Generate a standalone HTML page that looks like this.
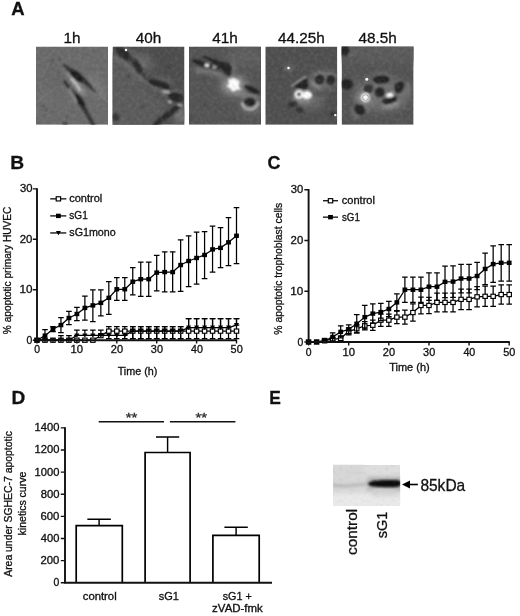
<!DOCTYPE html>
<html lang="en"><head><meta charset="utf-8"><title>Figure</title>
<style>html,body{margin:0;padding:0;background:#fff}svg{display:block}text{font-family:"Liberation Sans", Arial, Helvetica, sans-serif;stroke:#111;stroke-width:0.3px}</style></head><body>
<svg width="520" height="616" viewBox="0 0 520 616">
<defs>
<filter id="b1" filterUnits="userSpaceOnUse" x="-100" y="-100" width="800" height="800"><feGaussianBlur stdDeviation="1"/></filter>
<filter id="b15" filterUnits="userSpaceOnUse" x="-100" y="-100" width="800" height="800"><feGaussianBlur stdDeviation="1.5"/></filter>
<filter id="b2" filterUnits="userSpaceOnUse" x="-100" y="-100" width="800" height="800"><feGaussianBlur stdDeviation="2.2"/></filter>
<filter id="b3" filterUnits="userSpaceOnUse" x="-100" y="-100" width="800" height="800"><feGaussianBlur stdDeviation="3.5"/></filter>
<filter id="b05" filterUnits="userSpaceOnUse" x="-100" y="-100" width="800" height="800"><feGaussianBlur stdDeviation="0.6"/></filter>
<clipPath id="cp0"><rect x="36.0" y="46.5" width="72.0" height="78.3"/></clipPath>
<clipPath id="cp1"><rect x="112.5" y="46.5" width="72.0" height="78.3"/></clipPath>
<clipPath id="cp2"><rect x="189.0" y="46.5" width="72.0" height="78.3"/></clipPath>
<clipPath id="cp3"><rect x="265.3" y="46.5" width="72.0" height="78.3"/></clipPath>
<clipPath id="cp4"><rect x="341.6" y="46.5" width="72.0" height="78.3"/></clipPath>
<filter id="gw" x="0" y="0" width="100%" height="100%"><feTurbulence type="fractalNoise" baseFrequency="0.28" numOctaves="2" seed="7"/><feColorMatrix type="matrix" values="0 0 0 0 1  0 0 0 0 1  0 0 0 0 1  0.2 0 0 0 -0.1"/></filter>
<filter id="gb" x="0" y="0" width="100%" height="100%"><feTurbulence type="fractalNoise" baseFrequency="0.28" numOctaves="2" seed="7"/><feColorMatrix type="matrix" values="0 0 0 0 0  0 0 0 0 0  0 0 0 0 0  -0.2 0 0 0 0.1"/></filter>
<clipPath id="cpE"><rect x="333" y="464.8" width="67.2" height="41.2"/></clipPath>
</defs>
<rect width="520" height="616" fill="#fff"/>
<text x="11.34" y="14.80" font-size="18.7" text-anchor="start" fill="#111" font-weight="bold" textLength="13.37" lengthAdjust="spacingAndGlyphs">A</text>
<text x="10.35" y="169.30" font-size="18.7" text-anchor="start" fill="#111" font-weight="bold" textLength="13.86" lengthAdjust="spacingAndGlyphs">B</text>
<text x="267.49" y="169.30" font-size="18.7" text-anchor="start" fill="#111" font-weight="bold" textLength="12.90" lengthAdjust="spacingAndGlyphs">C</text>
<text x="11.56" y="404.40" font-size="18.7" text-anchor="start" fill="#111" font-weight="bold" textLength="13.74" lengthAdjust="spacingAndGlyphs">D</text>
<text x="269.17" y="404.40" font-size="18.7" text-anchor="start" fill="#111" font-weight="bold" textLength="11.57" lengthAdjust="spacingAndGlyphs">E</text>
<g id="panelA">
<text x="72.00" y="42.50" font-size="15.3" text-anchor="middle" fill="#111">1h</text>
<text x="148.50" y="42.50" font-size="15.3" text-anchor="middle" fill="#111">40h</text>
<text x="225.00" y="42.50" font-size="15.3" text-anchor="middle" fill="#111">41h</text>
<text x="301.30" y="42.50" font-size="15.3" text-anchor="middle" fill="#111">44.25h</text>
<text x="377.60" y="42.50" font-size="15.3" text-anchor="middle" fill="#111">48.5h</text>
</g>
<g clip-path="url(#cp0)"><rect x="36.0" y="46.5" width="72.0" height="78.3" fill="#6b6b6b"/>
<g transform="translate(36.0 46.5)">
<g filter="url(#b3)">
<ellipse cx="60" cy="40" rx="7" ry="15" fill="#787878" stroke="#787878" stroke-width="0.4" transform="rotate(-38 60 40)" />
<ellipse cx="7" cy="51" rx="5" ry="4" fill="#747474" stroke="#747474" stroke-width="0.4" />
<ellipse cx="20" cy="30" rx="8" ry="14" fill="#666" stroke="#666" stroke-width="0.4" transform="rotate(-35 20 30)" />
</g>
<g filter="url(#b2)">
<path d="M32.0 26.0C33.0 27.2 36.2 30.5 38.0 33.0C39.8 35.5 41.5 38.7 43.0 41.0C44.5 43.3 46.3 46.0 47.0 47.0" fill="none" stroke="#949494" stroke-width="4.5" stroke-linecap="round" />
<path d="M32.0 40.0C32.8 41.5 35.3 46.2 37.0 49.0C38.7 51.8 41.2 55.7 42.0 57.0" fill="none" stroke="#8c8c8c" stroke-width="3" stroke-linecap="round" />
</g>
<g filter="url(#b1)">
<path d="M27.0 17.3C27.6 17.1 31.0 19.5 33.2 20.8C35.4 22.1 37.9 23.4 40.2 24.9C42.5 26.4 45.0 27.9 47.1 29.8C49.2 31.7 51.0 34.0 52.6 36.0C54.2 38.0 55.5 39.8 56.8 41.5C58.1 43.2 60.4 46.1 60.2 46.4C60.0 46.7 57.1 44.5 55.4 43.2C53.7 41.9 51.4 39.8 49.8 38.6C48.2 37.4 47.1 36.5 45.7 35.8C44.3 35.1 42.9 35.0 41.5 34.2C40.1 33.4 38.7 32.1 37.4 30.8C36.1 29.5 35.2 28.1 33.9 26.6C32.6 25.1 30.9 23.4 29.8 21.8C28.7 20.2 26.4 17.5 27.0 17.3Z" fill="#343434" stroke="#343434" stroke-width="0.4" stroke-linejoin="round" />
<ellipse cx="41" cy="29.6" rx="7.5" ry="3.3" fill="#1e1e1e" stroke="#1e1e1e" stroke-width="0.4" transform="rotate(42 41 29.6)" />
<path d="M27.7 33.9C28.3 34.1 30.3 35.8 31.8 37.4C33.3 39.0 35.1 41.8 36.7 43.6C38.3 45.5 39.9 46.6 41.5 48.5C43.1 50.4 45.0 52.6 46.4 54.7C47.8 56.8 48.5 58.5 49.8 60.9C51.1 63.3 52.3 66.0 54.0 69.2C55.7 72.4 59.4 78.2 59.8 80.0C60.2 81.8 58.0 81.6 56.6 80.0C55.2 78.4 52.8 73.3 51.2 70.6C49.6 67.9 48.5 65.8 47.1 63.7C45.7 61.6 44.2 59.9 42.9 58.2C41.6 56.5 40.8 55.1 39.5 53.3C38.2 51.4 36.7 49.2 35.3 47.1C33.9 45.0 32.4 42.6 31.2 40.8C30.1 38.9 29.0 37.1 28.4 36.0C27.8 34.9 27.1 33.7 27.7 33.9Z" fill="#333" stroke="#333" stroke-width="0.4" stroke-linejoin="round" />
<ellipse cx="43.6" cy="53.6" rx="7.5" ry="2.7" fill="#1e1e1e" stroke="#1e1e1e" stroke-width="0.4" transform="rotate(53 43.6 53.6)" />
<path d="M28.5 34.8C29.2 35.8 31.5 38.5 33.0 40.5C34.5 42.5 36.8 45.5 37.5 46.5" fill="none" stroke="#2a2a2a" stroke-width="2.0" stroke-linecap="round" />
<path d="M35.5 32.5C36.2 33.4 38.6 35.8 40.0 37.6C41.4 39.4 43.2 42.5 43.8 43.5" fill="none" stroke="#c6c6c6" stroke-width="2.2" stroke-linecap="round" />
<path d="M33.4 42.0C34.0 43.1 35.8 46.3 37.0 48.5C38.2 50.7 39.9 53.9 40.5 55.0" fill="none" stroke="#a0a0a0" stroke-width="1.3" stroke-linecap="round" />
<circle cx="16.6" cy="13.8" r="1.2" fill="#4a4a4a"/>
<circle cx="7" cy="59.5" r="1.2" fill="#4a4a4a"/>
<circle cx="9.7" cy="63.7" r="1.2" fill="#4a4a4a"/>
<circle cx="31" cy="71.3" r="1.2" fill="#4a4a4a"/>
<circle cx="24" cy="13" r="1.2" fill="#4a4a4a"/>
<ellipse cx="29" cy="77.5" rx="3" ry="1.5" fill="#484848" stroke="#484848" stroke-width="0.4" />
</g>
</g>
<rect x="36.0" y="46.5" width="72.0" height="78.3" filter="url(#gw)"/>
<rect x="36.0" y="46.5" width="72.0" height="78.3" filter="url(#gb)"/>
</g>
<g clip-path="url(#cp1)"><rect x="112.5" y="46.5" width="72.0" height="78.3" fill="#4e4e4e"/>
<g transform="translate(112.5 46.5)">
<g filter="url(#b3)">
<path d="M-5 6 Q20 20 30 36 Q44 50 58 60 Q50 72 40 84 L-5 84Z" fill="#5c5c5c"/>
<ellipse cx="33" cy="15" rx="5" ry="11" fill="#686868" stroke="#686868" stroke-width="0.6" transform="rotate(-38 33 15)" />
<ellipse cx="68" cy="69" rx="7" ry="9" fill="#747474" stroke="#747474" stroke-width="0.6" />
</g>
<g filter="url(#b2)">
<path d="M2.3 10.7C4.2 11.9 10.0 15.0 13.5 17.8C17.0 20.6 19.9 24.6 23.4 27.6C26.9 30.6 30.9 33.4 34.6 36.0C38.3 38.6 42.5 40.9 45.8 43.0C49.1 45.1 52.9 47.7 54.3 48.6" fill="none" stroke="#767676" stroke-width="3.2" stroke-linecap="round" />
<path d="M44.0 31.0C45.3 31.3 49.3 32.0 52.0 33.0C54.7 34.0 58.7 36.3 60.0 37.0" fill="none" stroke="#6c6c6c" stroke-width="2.5" stroke-linecap="round" />
<path d="M13.0 1.0C14.2 2.0 17.7 5.0 20.0 7.0C22.3 9.0 25.0 10.7 27.0 13.0C29.0 15.3 31.2 19.7 32.0 21.0" fill="none" stroke="#787878" stroke-width="2.2" stroke-linecap="round" />
<path d="M60.0 44.0C61.0 44.2 64.2 44.3 66.0 45.0C67.8 45.7 70.2 47.5 71.0 48.0" fill="none" stroke="#707070" stroke-width="2.0" stroke-linecap="round" />
</g>
<g filter="url(#b1)">
<path d="M3.7 1.6C4.5 0.9 7.9 1.5 10.0 2.3C12.1 3.1 14.9 4.9 16.3 6.5C17.7 8.1 18.7 10.9 18.5 12.1C18.3 13.3 16.4 13.7 14.9 13.5C13.4 13.3 10.9 11.9 9.3 10.7C7.7 9.5 6.0 8.0 5.1 6.5C4.2 5.0 2.9 2.3 3.7 1.6Z" fill="#2b2b2b" stroke="#2b2b2b" stroke-width="0.6" stroke-linejoin="round" />
<path d="M20.6 13.5C21.2 13.0 22.9 13.2 24.1 14.2C25.3 15.1 26.7 17.3 27.6 19.2C28.5 21.1 29.8 24.2 29.7 25.5C29.6 26.8 27.9 27.5 26.9 26.9C25.8 26.3 24.4 23.6 23.4 22.0C22.3 20.4 21.1 18.4 20.6 17.0C20.1 15.6 20.0 14.0 20.6 13.5Z" fill="#2b2b2b" stroke="#2b2b2b" stroke-width="0.6" stroke-linejoin="round" />
<path d="M17.0 11.0C17.5 11.5 19.5 13.5 20.0 14.0" fill="none" stroke="#3a3a3a" stroke-width="2.4" stroke-linecap="round" />
<path d="M29.0 26.5C29.7 27.2 31.7 29.7 33.0 31.0C34.3 32.3 36.3 33.9 37.0 34.5" fill="none" stroke="#3c3c3c" stroke-width="2.2" stroke-linecap="round" />
<path d="M35.3 33.9C35.8 33.2 39.4 33.0 41.6 33.2C43.8 33.4 46.2 34.5 48.6 35.3C51.0 36.1 54.2 37.0 55.7 38.1C57.2 39.2 58.3 40.9 57.8 41.6C57.3 42.3 54.8 42.5 52.8 42.3C50.8 42.1 48.1 41.0 45.8 40.2C43.5 39.4 40.5 38.5 38.8 37.4C37.0 36.3 34.8 34.6 35.3 33.9Z" fill="#282828" stroke="#282828" stroke-width="0.6" stroke-linejoin="round" />
<path d="M56.4 47.9C57.3 47.1 60.6 46.4 62.7 46.5C64.8 46.6 67.7 47.7 69.0 48.6C70.3 49.5 70.8 51.0 70.4 52.1C70.1 53.2 68.4 54.6 66.9 55.0C65.4 55.4 62.9 54.9 61.3 54.3C59.7 53.7 57.9 52.5 57.1 51.4C56.3 50.3 55.5 48.7 56.4 47.9Z" fill="#262626" stroke="#262626" stroke-width="0.6" stroke-linejoin="round" />
<path d="M65.5 57.8C66.9 57.6 68.8 58.6 68.3 59.9C67.8 61.2 64.8 63.6 62.7 65.5C60.6 67.4 58.1 69.3 55.7 71.1C53.4 72.8 50.5 74.6 48.6 76.0C46.7 77.4 45.9 78.9 44.4 79.5C42.9 80.1 39.6 80.7 39.8 79.5C40.0 78.3 43.6 74.6 45.8 72.5C48.0 70.4 50.4 68.8 52.8 66.9C55.1 65.0 57.8 62.8 59.9 61.3C62.0 59.8 64.1 58.0 65.5 57.8Z" fill="#2a2a2a" stroke="#2a2a2a" stroke-width="0.6" stroke-linejoin="round" />
<ellipse cx="3.2" cy="70.6" rx="3.2" ry="3.6" fill="#343434" stroke="#343434" stroke-width="0.6" />
<path d="M50.8 45 L56.4 45.6" stroke="#dcdcdc" stroke-width="1.7" fill="none" stroke-linecap="round" stroke-linejoin="round" />
<path d="M55.8 54.6 L58.4 56.2" stroke="#d4d4d4" stroke-width="1.7" fill="none" stroke-linecap="round" stroke-linejoin="round" />
<path d="M66 58.2 L69 59" stroke="#d4d4d4" stroke-width="1.6" fill="none" stroke-linecap="round" stroke-linejoin="round" />
<circle cx="55.9" cy="21.5" r="1.2" fill="#363636"/>
<circle cx="15.9" cy="29.6" r="1.2" fill="#363636"/>
<circle cx="30.6" cy="60" r="1.2" fill="#363636"/>
</g>
<circle cx="13.5" cy="3.5" r="1.25" fill="#fff" filter="url(#b05)"/>
</g>
<rect x="112.5" y="46.5" width="72.0" height="78.3" filter="url(#gw)"/>
<rect x="112.5" y="46.5" width="72.0" height="78.3" filter="url(#gb)"/>
</g>
<g clip-path="url(#cp2)"><rect x="189.0" y="46.5" width="72.0" height="78.3" fill="#555555"/>
<g transform="translate(189.0 46.5)">
<g filter="url(#b3)">
<ellipse cx="45" cy="39" rx="13" ry="10" fill="#8e8e8e" stroke="#8e8e8e" stroke-width="0.5" />
<ellipse cx="56" cy="10" rx="20" ry="10" fill="#5e5e5e" stroke="#5e5e5e" stroke-width="0.5" />
<ellipse cx="62" cy="58" rx="10" ry="8" fill="#777" stroke="#777" stroke-width="0.5" />
</g>
<g filter="url(#b2)">
<path d="M7.5 23.5C9.6 23.8 15.7 24.0 20.0 25.0C24.3 26.0 31.0 28.8 33.2 29.5" fill="none" stroke="#8e8e8e" stroke-width="3.0" stroke-linecap="round" />
<path d="M48.1 46.5C49.8 46.9 54.8 48.3 58.0 49.0C61.2 49.7 65.8 50.4 67.3 50.7" fill="none" stroke="#8e8e8e" stroke-width="2.8" stroke-linecap="round" />
<ellipse cx="43.5" cy="20" rx="2.5" ry="4" fill="#7a7a7a" stroke="#7a7a7a" stroke-width="0.5" />
</g>
<g filter="url(#b1)">
<path d="M3.3 13.7C4.0 13.2 6.9 12.6 9.0 13.0C11.1 13.4 14.0 15.1 16.1 15.9C18.2 16.7 19.8 17.2 21.8 18.0C23.8 18.8 26.9 20.0 28.2 20.8C29.5 21.6 30.4 22.8 29.6 23.0C28.8 23.2 25.4 22.7 23.2 22.3C20.9 21.9 18.5 21.5 16.1 20.8C13.7 20.1 10.9 18.8 9.0 18.0C7.1 17.2 5.7 16.6 4.7 15.9C3.8 15.2 2.6 14.2 3.3 13.7Z" fill="#252525" stroke="#252525" stroke-width="0.5" stroke-linejoin="round" />
<path d="M13.2 9.7C13.7 9.5 17.9 10.2 20.3 10.9C22.7 11.6 25.1 12.9 27.5 13.7C29.9 14.5 32.5 15.3 34.6 15.9C36.7 16.5 39.0 16.5 40.3 17.3C41.6 18.1 42.2 19.4 42.4 20.8C42.6 22.2 42.1 24.4 41.7 25.8C41.4 27.2 41.1 29.1 40.3 29.4C39.5 29.6 37.9 28.2 36.7 27.3C35.5 26.4 34.5 24.9 33.2 23.7C31.9 22.5 30.6 21.4 28.9 20.1C27.2 18.8 25.1 17.2 23.2 15.9C21.3 14.6 19.2 13.3 17.5 12.3C15.8 11.3 12.7 9.9 13.2 9.7Z" fill="#262626" stroke="#262626" stroke-width="0.5" stroke-linejoin="round" />
<path d="M55.2 39.3C55.7 38.7 59.4 39.4 61.6 40.1C63.9 40.8 67.3 42.5 68.7 43.6C70.1 44.7 70.9 46.0 70.2 46.5C69.5 47.0 66.4 47.0 64.5 46.5C62.6 46.0 60.3 44.8 58.8 43.6C57.2 42.4 54.7 39.9 55.2 39.3Z" fill="#232323" stroke="#232323" stroke-width="0.5" stroke-linejoin="round" />
<ellipse cx="61" cy="55.6" rx="5.6" ry="3.9" fill="#212121" stroke="#212121" stroke-width="0.5" />
<path d="M53.1 56.5C53.5 57.2 53.9 59.9 55.2 61.0C56.5 62.1 58.9 63.3 60.9 63.2C62.9 63.1 66.0 61.5 67.3 60.4C68.6 59.3 68.6 57.2 68.9 56.6" fill="none" stroke="#c4c4c4" stroke-width="1.8" stroke-linecap="round" />
<path d="M39 33 L44 31.4 L48 32.4 L50.6 35 L49.8 39.6 L51.6 43.6 L47 43.6 L44 45.6 L41.2 42 L37.6 40 L40 37Z" fill="#fbfbfb"/>
<ellipse cx="18" cy="18.7" rx="2.0" ry="1.5" fill="#f8f8f8" stroke="#f8f8f8" stroke-width="0.5" />
<ellipse cx="25.3" cy="20.9" rx="2.0" ry="1.3" fill="#a4a4a4" stroke="#a4a4a4" stroke-width="0.5" />
<circle cx="14.7" cy="32.2" r="1.2" fill="#3a3a3a"/>
<circle cx="16" cy="58.5" r="1.2" fill="#3a3a3a"/>
<circle cx="30.3" cy="62" r="1.2" fill="#3a3a3a"/>
<circle cx="45.2" cy="72.8" r="1.2" fill="#3a3a3a"/>
<circle cx="1.8" cy="72" r="1.2" fill="#3a3a3a"/>
</g>
</g>
<rect x="189.0" y="46.5" width="72.0" height="78.3" filter="url(#gw)"/>
<rect x="189.0" y="46.5" width="72.0" height="78.3" filter="url(#gb)"/>
</g>
<g clip-path="url(#cp3)"><rect x="265.3" y="46.5" width="72.0" height="78.3" fill="#505050"/>
<g transform="translate(265.3 46.5)">
<g filter="url(#b3)">
<ellipse cx="58" cy="34" rx="14" ry="9" fill="#6e6e6e" stroke="#6e6e6e" stroke-width="0.9" />
<ellipse cx="38" cy="50" rx="9" ry="7" fill="#8c8c8c" stroke="#8c8c8c" stroke-width="0.9" />
<ellipse cx="46" cy="58" rx="12" ry="5" fill="#666" stroke="#666" stroke-width="0.9" />
</g>
<g filter="url(#b2)">
<ellipse cx="23.2" cy="21.5" rx="3.5" ry="3" fill="#747474" stroke="#747474" stroke-width="0.9" />
<path d="M46.4 35.8C47.0 36.3 48.7 37.8 50.0 38.6C51.3 39.4 53.5 40.4 54.2 40.8" fill="none" stroke="#b0b0b0" stroke-width="2.2" stroke-linecap="round" />
<path d="M48.5 53.6C49.4 53.4 52.1 53.1 54.0 52.6C55.9 52.1 58.9 51.0 59.9 50.7" fill="none" stroke="#7c7c7c" stroke-width="2.0" stroke-linecap="round" />
<path d="M29.0 53.0C30.2 53.2 33.5 54.3 36.0 54.5C38.5 54.7 42.7 54.1 44.0 54.0" fill="none" stroke="#9a9a9a" stroke-width="2.2" stroke-linecap="round" />
</g>
<g filter="url(#b1)">
<path d="M27.9 38.6C28.3 37.5 32.3 35.6 34.3 34.4C36.3 33.1 38.8 31.0 40.0 31.1C41.2 31.2 41.0 33.4 41.4 35.1C41.8 36.8 42.8 40.3 42.1 41.5C41.4 42.7 38.8 42.3 37.1 42.2C35.4 42.1 33.6 41.4 32.1 40.8C30.6 40.2 27.5 39.7 27.9 38.6Z" fill="#232323" stroke="#232323" stroke-width="0.9" stroke-linejoin="round" />
<path d="M26.5 39.1 L40.3 30.1" stroke="#aaaaaa" stroke-width="1.3" fill="none" stroke-linecap="round" stroke-linejoin="round" />
<ellipse cx="54.2" cy="32.9" rx="4.4" ry="4.6" fill="#2a2a2a" stroke="#2a2a2a" stroke-width="0.9" />
<ellipse cx="65.4" cy="33.6" rx="4.0" ry="5.0" fill="#2c2c2c" stroke="#2c2c2c" stroke-width="0.9" />
<path d="M49.0 29.0C49.8 28.5 52.2 26.5 54.0 26.2C55.8 25.9 58.0 26.9 60.0 27.0C62.0 27.1 64.2 26.3 66.0 26.6C67.8 26.9 69.8 28.6 70.5 29.0" fill="none" stroke="#7e7e7e" stroke-width="1.4" stroke-linecap="round" />
<ellipse cx="27.2" cy="57.8" rx="4.4" ry="2.6" fill="#323232" stroke="#323232" stroke-width="0.9" transform="rotate(-15 27.2 57.8)" />
<ellipse cx="34.3" cy="63.5" rx="3.6" ry="2.4" fill="#353535" stroke="#353535" stroke-width="0.9" />
<circle cx="33.6" cy="47.9" r="3.3" fill="#3a3a3a" stroke="#fdfdfd" stroke-width="2.3"/>
<ellipse cx="41.6" cy="48.6" rx="4.7" ry="3.7" fill="#fdfdfd" stroke="#fdfdfd" stroke-width="0.9" />
<ellipse cx="15.8" cy="22.3" rx="1.2" ry="1.2" fill="#3a3a3a" stroke="#3a3a3a" stroke-width="0.9" />
<ellipse cx="67.0" cy="67.6" rx="1.8" ry="1.8" fill="#2c2c2c" stroke="#2c2c2c" stroke-width="0.9" />
</g>
<g filter="url(#b05)">
<circle cx="23.2" cy="21.6" r="1.25" fill="#fff"/>
<circle cx="70.0" cy="68.6" r="1.2" fill="#f4f4f4"/>
</g>
</g>
<rect x="265.3" y="46.5" width="72.0" height="78.3" filter="url(#gw)"/>
<rect x="265.3" y="46.5" width="72.0" height="78.3" filter="url(#gb)"/>
</g>
<g clip-path="url(#cp4)"><rect x="341.6" y="46.5" width="72.0" height="78.3" fill="#545454"/>
<g transform="translate(341.6 46.5)">
<g filter="url(#b3)">
<rect x="-6" y="-6" width="84" height="22" fill="#5c5c5c"/>
<ellipse cx="41" cy="48" rx="27" ry="17" fill="#6e6e6e" stroke="#6e6e6e" stroke-width="1.1" />
<ellipse cx="22" cy="52" rx="7" ry="6" fill="#929292" stroke="#929292" stroke-width="1.1" />
</g>
<g filter="url(#b2)">
<path d="M42.5 58.8C43.7 58.9 47.2 60.1 49.6 59.6C52.0 59.1 55.5 56.5 56.7 55.9" fill="none" stroke="#b8b8b8" stroke-width="2.2" stroke-linecap="round" />
<path d="M11.9 61.5C12.0 62.4 11.8 65.4 12.6 67.0C13.4 68.6 16.1 70.3 16.8 71.0" fill="none" stroke="#9a9a9a" stroke-width="2.0" stroke-linecap="round" />
<path d="M24.7 62.0C24.8 62.7 25.1 65.3 25.2 66.0" fill="none" stroke="#8a8a8a" stroke-width="1.8" stroke-linecap="round" />
<path d="M65.3 36.9C65.6 37.6 67.1 39.5 67.2 41.0C67.3 42.5 66.0 45.2 65.7 46.0" fill="none" stroke="#8a8a8a" stroke-width="2.0" stroke-linecap="round" />
<path d="M33.0 28.4C34.2 28.1 37.7 26.6 40.0 26.6C42.3 26.6 45.8 28.3 47.0 28.6" fill="none" stroke="#808080" stroke-width="1.6" stroke-linecap="round" />
<path d="M11.9 33.0C12.0 33.8 12.5 37.2 12.6 38.0" fill="none" stroke="#8c8c8c" stroke-width="1.6" stroke-linecap="round" />
<path d="M7 5 L9 8" stroke="#8a8a8a" stroke-width="1.5" fill="none" stroke-linecap="round" stroke-linejoin="round" />
</g>
<g filter="url(#b1)">
<path d="M0.0 0.0C1.2 -0.6 5.2 -0.3 6.4 0.4C7.6 1.1 7.2 3.2 7.0 4.5C6.8 5.8 6.1 7.8 5.0 8.4C3.9 9.1 1.5 9.1 0.5 8.4C-0.5 7.7 -0.9 5.4 -1.0 4.0C-1.1 2.6 -1.2 0.6 0.0 0.0Z" fill="#252525" stroke="#252525" stroke-width="1.1" stroke-linejoin="round" />
<path d="M31.8 32.9C32.4 32.1 34.8 30.6 36.8 30.1C38.8 29.6 42.1 29.6 43.9 30.1C45.7 30.6 47.5 31.9 47.5 32.9C47.5 33.8 45.7 35.2 43.9 35.8C42.1 36.4 38.6 36.6 36.8 36.5C35.0 36.4 34.1 35.7 33.3 35.1C32.5 34.5 31.2 33.7 31.8 32.9Z" fill="#242424" stroke="#242424" stroke-width="1.1" stroke-linejoin="round" />
<path d="M0.5 34.4C1.4 33.6 3.2 33.0 4.8 33.0C6.3 33.0 8.9 33.4 9.8 34.4C10.8 35.4 11.0 38.0 10.5 39.3C10.0 40.6 8.3 41.8 6.9 42.2C5.5 42.6 3.2 42.2 2.0 41.5C0.8 40.8 -0.2 39.1 -0.4 37.9C-0.7 36.7 -0.4 35.2 0.5 34.4Z" fill="#222" stroke="#222" stroke-width="1.1" stroke-linejoin="round" />
<ellipse cx="26.9" cy="42.2" rx="4.3" ry="4.0" fill="#363636" stroke="#363636" stroke-width="1.1" />
<ellipse cx="38.2" cy="45.8" rx="4.4" ry="4.2" fill="#252525" stroke="#252525" stroke-width="1.1" />
<path d="M53.9 38.6C54.6 37.2 56.9 36.0 58.2 35.8C59.5 35.6 61.2 36.1 61.7 37.2C62.2 38.3 61.7 40.8 61.0 42.2C60.3 43.6 58.7 45.4 57.5 45.8C56.3 46.1 54.5 45.5 53.9 44.3C53.3 43.1 53.2 40.0 53.9 38.6Z" fill="#252525" stroke="#252525" stroke-width="1.1" stroke-linejoin="round" />
<path d="M41.1 54.3C41.6 53.3 44.8 52.1 46.8 51.4C48.8 50.7 51.9 49.8 53.2 50.0C54.5 50.2 55.2 51.9 54.6 52.9C54.0 53.9 51.4 55.0 49.6 55.7C47.8 56.4 45.3 57.3 43.9 57.1C42.5 56.9 40.6 55.2 41.1 54.3Z" fill="#212121" stroke="#212121" stroke-width="1.1" stroke-linejoin="round" />
<path d="M13.3 60.7C13.9 59.6 16.2 58.5 17.6 58.6C19.0 58.7 21.1 60.2 21.9 61.4C22.7 62.6 23.2 64.6 22.6 65.7C22.0 66.8 19.7 67.9 18.3 67.8C16.9 67.7 15.1 66.4 14.3 65.2C13.5 64.0 12.8 61.8 13.3 60.7Z" fill="#252525" stroke="#252525" stroke-width="1.1" stroke-linejoin="round" />
<circle cx="23.7" cy="51" r="4.4" fill="#fdfdfd"/>
<ellipse cx="48.3" cy="48.5" rx="3.2" ry="1.8" fill="#fbfbfb" stroke="#fbfbfb" stroke-width="1.1" transform="rotate(-10 48.3 48.5)" />
</g>
<g filter="url(#b05)">
<circle cx="23.9" cy="51.1" r="2.9" fill="none" stroke="#8a8a8a" stroke-width="0.8"/>
<circle cx="25.2" cy="32.7" r="1.5" fill="#fff"/>
</g>
</g>
<rect x="341.6" y="46.5" width="72.0" height="78.3" filter="url(#gw)"/>
<rect x="341.6" y="46.5" width="72.0" height="78.3" filter="url(#gb)"/>
</g>
<g id="chartB">
<path d="M76.90 330.11V335.41M74.10 330.11H79.70M74.10 335.41H79.70M84.88 330.11V335.41M82.08 330.11H87.68M82.08 335.41H87.68M92.86 330.11V335.41M90.06 330.11H95.66M90.06 335.41H95.66M100.84 330.11V335.41M98.04 330.11H103.64M98.04 335.41H103.64M108.82 330.11V335.41M106.02 330.11H111.62M106.02 335.41H111.62M116.80 330.11V335.41M114.00 330.11H119.60M114.00 335.41H119.60M124.78 330.11V335.41M121.98 330.11H127.58M121.98 335.41H127.58M132.76 326.58V338.69M129.96 326.58H135.56M129.96 338.69H135.56M140.74 326.58V338.69M137.94 326.58H143.54M137.94 338.69H143.54M148.72 326.58V338.69M145.92 326.58H151.52M145.92 338.69H151.52M156.70 326.58V338.69M153.90 326.58H159.50M153.90 338.69H159.50M164.68 326.58V338.69M161.88 326.58H167.48M161.88 338.69H167.48M172.66 326.58V338.69M169.86 326.58H175.46M169.86 338.69H175.46M180.64 326.58V338.69M177.84 326.58H183.44M177.84 338.69H183.44M188.62 318.51V327.59M185.82 318.51H191.42M185.82 327.59H191.42M196.60 318.51V327.59M193.80 318.51H199.40M193.80 327.59H199.40M204.58 318.51V327.59M201.78 318.51H207.38M201.78 327.59H207.38M212.56 318.51V327.59M209.76 318.51H215.36M209.76 327.59H215.36M220.54 318.51V327.59M217.74 318.51H223.34M217.74 327.59H223.34M228.52 318.51V327.59M225.72 318.51H231.32M225.72 327.59H231.32M236.50 318.51V325.06M233.70 318.51H239.30M233.70 325.06H239.30" fill="none" stroke="#000" stroke-width="1.25"/>
<path d="M60.94 335.66V340.20M58.14 335.66H63.74M58.14 340.20H63.74M68.92 335.66V340.20M66.12 335.66H71.72M66.12 340.20H71.72M108.82 326.58V338.69M106.02 326.58H111.62M106.02 338.69H111.62M116.80 326.58V338.69M114.00 326.58H119.60M114.00 338.69H119.60M124.78 326.58V338.69M121.98 326.58H127.58M121.98 338.69H127.58M132.76 326.58V338.69M129.96 326.58H135.56M129.96 338.69H135.56M140.74 326.58V338.69M137.94 326.58H143.54M137.94 338.69H143.54M148.72 326.58V338.69M145.92 326.58H151.52M145.92 338.69H151.52M156.70 326.58V338.69M153.90 326.58H159.50M153.90 338.69H159.50M164.68 326.58V338.69M161.88 326.58H167.48M161.88 338.69H167.48M172.66 326.58V338.69M169.86 326.58H175.46M169.86 338.69H175.46M180.64 326.58V338.69M177.84 326.58H183.44M177.84 338.69H183.44M188.62 318.51V338.69M185.82 318.51H191.42M185.82 338.69H191.42M196.60 318.51V338.69M193.80 318.51H199.40M193.80 338.69H199.40M204.58 318.51V338.69M201.78 318.51H207.38M201.78 338.69H207.38M212.56 318.51V338.69M209.76 318.51H215.36M209.76 338.69H215.36M220.54 318.51V338.69M217.74 318.51H223.34M217.74 338.69H223.34M228.52 318.51V338.69M225.72 318.51H231.32M225.72 338.69H231.32M236.50 318.51V338.69M233.70 318.51H239.30M233.70 338.69H239.30" fill="none" stroke="#000" stroke-width="1.25"/>
<polyline points="37.00,340.20 44.98,340.20 52.96,340.20 60.94,340.20 68.92,340.20 76.90,340.20 84.88,340.20 92.86,340.20 100.84,335.66 108.82,331.12 116.80,331.12 124.78,331.12 132.76,331.12 140.74,331.12 148.72,331.12 156.70,331.12 164.68,331.12 172.66,331.12 180.64,331.12 188.62,331.12 196.60,331.12 204.58,331.12 212.56,331.12 220.54,331.12 228.52,331.12 236.50,331.12" fill="none" stroke="#000" stroke-width="1.25" stroke-linejoin="round"/>
<rect x="34.80" y="338.10" width="4.4" height="4.2" fill="#fff" stroke="#000" stroke-width="1.15"/>
<rect x="42.78" y="338.10" width="4.4" height="4.2" fill="#fff" stroke="#000" stroke-width="1.15"/>
<rect x="50.76" y="338.10" width="4.4" height="4.2" fill="#fff" stroke="#000" stroke-width="1.15"/>
<rect x="58.74" y="338.10" width="4.4" height="4.2" fill="#fff" stroke="#000" stroke-width="1.15"/>
<rect x="66.72" y="338.10" width="4.4" height="4.2" fill="#fff" stroke="#000" stroke-width="1.15"/>
<rect x="74.70" y="338.10" width="4.4" height="4.2" fill="#fff" stroke="#000" stroke-width="1.15"/>
<rect x="82.68" y="338.10" width="4.4" height="4.2" fill="#fff" stroke="#000" stroke-width="1.15"/>
<rect x="90.66" y="338.10" width="4.4" height="4.2" fill="#fff" stroke="#000" stroke-width="1.15"/>
<rect x="98.64" y="333.56" width="4.4" height="4.2" fill="#fff" stroke="#000" stroke-width="1.15"/>
<rect x="106.62" y="329.02" width="4.4" height="4.2" fill="#fff" stroke="#000" stroke-width="1.15"/>
<rect x="114.60" y="329.02" width="4.4" height="4.2" fill="#fff" stroke="#000" stroke-width="1.15"/>
<rect x="122.58" y="329.02" width="4.4" height="4.2" fill="#fff" stroke="#000" stroke-width="1.15"/>
<rect x="130.56" y="329.02" width="4.4" height="4.2" fill="#fff" stroke="#000" stroke-width="1.15"/>
<rect x="138.54" y="329.02" width="4.4" height="4.2" fill="#fff" stroke="#000" stroke-width="1.15"/>
<rect x="146.52" y="329.02" width="4.4" height="4.2" fill="#fff" stroke="#000" stroke-width="1.15"/>
<rect x="154.50" y="329.02" width="4.4" height="4.2" fill="#fff" stroke="#000" stroke-width="1.15"/>
<rect x="162.48" y="329.02" width="4.4" height="4.2" fill="#fff" stroke="#000" stroke-width="1.15"/>
<rect x="170.46" y="329.02" width="4.4" height="4.2" fill="#fff" stroke="#000" stroke-width="1.15"/>
<rect x="178.44" y="329.02" width="4.4" height="4.2" fill="#fff" stroke="#000" stroke-width="1.15"/>
<rect x="186.42" y="329.02" width="4.4" height="4.2" fill="#fff" stroke="#000" stroke-width="1.15"/>
<rect x="194.40" y="329.02" width="4.4" height="4.2" fill="#fff" stroke="#000" stroke-width="1.15"/>
<rect x="202.38" y="329.02" width="4.4" height="4.2" fill="#fff" stroke="#000" stroke-width="1.15"/>
<rect x="210.36" y="329.02" width="4.4" height="4.2" fill="#fff" stroke="#000" stroke-width="1.15"/>
<rect x="218.34" y="329.02" width="4.4" height="4.2" fill="#fff" stroke="#000" stroke-width="1.15"/>
<rect x="226.32" y="329.02" width="4.4" height="4.2" fill="#fff" stroke="#000" stroke-width="1.15"/>
<rect x="234.30" y="329.02" width="4.4" height="4.2" fill="#fff" stroke="#000" stroke-width="1.15"/>
<path d="M44.98 329.61V340.20M42.18 329.61H47.78M42.18 340.20H47.78M52.96 326.58V331.62M50.16 326.58H55.76M50.16 331.62H55.76M60.94 317.50V332.63M58.14 317.50H63.74M58.14 332.63H63.74M68.92 311.44V324.56M66.12 311.44H71.72M66.12 324.56H71.72M76.90 307.41V320.52M74.10 307.41H79.70M74.10 320.52H79.70M84.88 296.06V320.02M82.08 296.06H87.68M82.08 320.02H87.68M92.86 289.75V321.53M90.06 289.75H95.66M90.06 321.53H95.66M100.84 289.75V315.98M98.04 289.75H103.64M98.04 315.98H103.64M108.82 281.68V314.47M106.02 281.68H111.62M106.02 314.47H111.62M116.80 277.64V300.34M114.00 277.64H119.60M114.00 300.34H119.60M124.78 277.64V300.34M121.98 277.64H127.58M121.98 300.34H127.58M132.76 267.55V294.79M129.96 267.55H135.56M129.96 294.79H135.56M140.74 262.00V296.31M137.94 262.00H143.54M137.94 296.31H143.54M148.72 262.00V296.31M145.92 262.00H151.52M145.92 296.31H151.52M156.70 255.44V290.76M153.90 255.44H159.50M153.90 290.76H159.50M164.68 251.91V291.77M161.88 251.91H167.48M161.88 291.77H167.48M172.66 251.91V291.77M169.86 251.91H175.46M169.86 291.77H175.46M180.64 239.80V291.26M177.84 239.80H183.44M177.84 291.26H183.44M188.62 235.77V286.72M185.82 235.77H191.42M185.82 286.72H191.42M196.60 232.24V284.20M193.80 232.24H199.40M193.80 284.20H199.40M204.58 231.73V278.65M201.78 231.73H207.38M201.78 278.65H207.38M212.56 226.18V272.09M209.76 226.18H215.36M209.76 272.09H215.36M220.54 227.70V267.55M217.74 227.70H223.34M217.74 267.55H223.34M228.52 217.61V265.53M225.72 217.61H231.32M225.72 265.53H231.32M236.50 207.52V263.52M233.70 207.52H239.30M233.70 263.52H239.30" fill="none" stroke="#000" stroke-width="1.25"/>
<polyline points="37.00,340.20 44.98,335.66 52.96,329.10 60.94,325.06 68.92,318.00 76.90,313.97 84.88,307.91 92.86,305.39 100.84,302.87 108.82,297.82 116.80,289.25 124.78,289.25 132.76,281.68 140.74,279.16 148.72,279.16 156.70,272.60 164.68,272.09 172.66,272.09 180.64,265.03 188.62,260.99 196.60,257.97 204.58,254.94 212.56,249.39 220.54,247.88 228.52,242.33 236.50,235.77" fill="none" stroke="#000" stroke-width="1.25" stroke-linejoin="round"/>
<rect x="34.60" y="338.00" width="4.8" height="4.4" fill="#000"/>
<rect x="42.58" y="333.46" width="4.8" height="4.4" fill="#000"/>
<rect x="50.56" y="326.90" width="4.8" height="4.4" fill="#000"/>
<rect x="58.54" y="322.87" width="4.8" height="4.4" fill="#000"/>
<rect x="66.52" y="315.80" width="4.8" height="4.4" fill="#000"/>
<rect x="74.50" y="311.77" width="4.8" height="4.4" fill="#000"/>
<rect x="82.48" y="305.71" width="4.8" height="4.4" fill="#000"/>
<rect x="90.46" y="303.19" width="4.8" height="4.4" fill="#000"/>
<rect x="98.44" y="300.67" width="4.8" height="4.4" fill="#000"/>
<rect x="106.42" y="295.62" width="4.8" height="4.4" fill="#000"/>
<rect x="114.40" y="287.05" width="4.8" height="4.4" fill="#000"/>
<rect x="122.38" y="287.05" width="4.8" height="4.4" fill="#000"/>
<rect x="130.36" y="279.48" width="4.8" height="4.4" fill="#000"/>
<rect x="138.34" y="276.96" width="4.8" height="4.4" fill="#000"/>
<rect x="146.32" y="276.96" width="4.8" height="4.4" fill="#000"/>
<rect x="154.30" y="270.40" width="4.8" height="4.4" fill="#000"/>
<rect x="162.28" y="269.89" width="4.8" height="4.4" fill="#000"/>
<rect x="170.26" y="269.89" width="4.8" height="4.4" fill="#000"/>
<rect x="178.24" y="262.83" width="4.8" height="4.4" fill="#000"/>
<rect x="186.22" y="258.79" width="4.8" height="4.4" fill="#000"/>
<rect x="194.20" y="255.77" width="4.8" height="4.4" fill="#000"/>
<rect x="202.18" y="252.74" width="4.8" height="4.4" fill="#000"/>
<rect x="210.16" y="247.19" width="4.8" height="4.4" fill="#000"/>
<rect x="218.14" y="245.68" width="4.8" height="4.4" fill="#000"/>
<rect x="226.12" y="240.13" width="4.8" height="4.4" fill="#000"/>
<rect x="234.10" y="233.57" width="4.8" height="4.4" fill="#000"/>
<polyline points="37.00,340.20 44.98,340.20 52.96,340.20 60.94,340.20 68.92,340.20 76.90,335.41 84.88,335.41 92.86,335.41 100.84,335.41 108.82,335.41 116.80,335.41 124.78,335.41 132.76,331.12 140.74,331.12 148.72,331.12 156.70,331.12 164.68,331.12 172.66,331.12 180.64,331.12 188.62,327.59 196.60,327.59 204.58,327.59 212.56,327.59 220.54,327.59 228.52,327.59 236.50,325.06" fill="none" stroke="#000" stroke-width="1.25" stroke-linejoin="round"/>
<path d="M34.50 338.20H39.50L37.00 342.50Z" fill="#000"/>
<path d="M42.48 338.20H47.48L44.98 342.50Z" fill="#000"/>
<path d="M50.46 338.20H55.46L52.96 342.50Z" fill="#000"/>
<path d="M58.44 338.20H63.44L60.94 342.50Z" fill="#000"/>
<path d="M66.42 338.20H71.42L68.92 342.50Z" fill="#000"/>
<path d="M74.40 333.41H79.40L76.90 337.71Z" fill="#000"/>
<path d="M82.38 333.41H87.38L84.88 337.71Z" fill="#000"/>
<path d="M90.36 333.41H95.36L92.86 337.71Z" fill="#000"/>
<path d="M98.34 333.41H103.34L100.84 337.71Z" fill="#000"/>
<path d="M106.32 333.41H111.32L108.82 337.71Z" fill="#000"/>
<path d="M114.30 333.41H119.30L116.80 337.71Z" fill="#000"/>
<path d="M122.28 333.41H127.28L124.78 337.71Z" fill="#000"/>
<path d="M130.26 329.12H135.26L132.76 333.42Z" fill="#000"/>
<path d="M138.24 329.12H143.24L140.74 333.42Z" fill="#000"/>
<path d="M146.22 329.12H151.22L148.72 333.42Z" fill="#000"/>
<path d="M154.20 329.12H159.20L156.70 333.42Z" fill="#000"/>
<path d="M162.18 329.12H167.18L164.68 333.42Z" fill="#000"/>
<path d="M170.16 329.12H175.16L172.66 333.42Z" fill="#000"/>
<path d="M178.14 329.12H183.14L180.64 333.42Z" fill="#000"/>
<path d="M186.12 325.59H191.12L188.62 329.89Z" fill="#000"/>
<path d="M194.10 325.59H199.10L196.60 329.89Z" fill="#000"/>
<path d="M202.08 325.59H207.08L204.58 329.89Z" fill="#000"/>
<path d="M210.06 325.59H215.06L212.56 329.89Z" fill="#000"/>
<path d="M218.04 325.59H223.04L220.54 329.89Z" fill="#000"/>
<path d="M226.02 325.59H231.02L228.52 329.89Z" fill="#000"/>
<path d="M234.00 323.06H239.00L236.50 327.37Z" fill="#000"/>
<path d="M37.00 188.25V340.20H237.10" fill="none" stroke="#111" stroke-width="1.9" stroke-linejoin="miter"/>
<path d="M32.80 340.20H37.00M32.80 289.75H37.00M32.80 239.30H37.00M32.80 188.85H37.00M37.00 340.20V343.60M76.90 340.20V343.60M116.80 340.20V343.60M156.70 340.20V343.60M196.60 340.20V343.60M236.50 340.20V343.60" fill="none" stroke="#111" stroke-width="1.4"/>
<text x="26.58" y="343.80" font-size="10.2" text-anchor="start" fill="#111" textLength="5.79" lengthAdjust="spacingAndGlyphs">0</text>
<text x="19.42" y="293.35" font-size="10.2" text-anchor="start" fill="#111" textLength="13.01" lengthAdjust="spacingAndGlyphs">10</text>
<text x="19.73" y="242.90" font-size="10.2" text-anchor="start" fill="#111" textLength="12.70" lengthAdjust="spacingAndGlyphs">20</text>
<text x="19.91" y="192.45" font-size="10.2" text-anchor="start" fill="#111" textLength="12.51" lengthAdjust="spacingAndGlyphs">30</text>
<text x="34.28" y="353.00" font-size="10.2" text-anchor="start" fill="#111" textLength="5.79" lengthAdjust="spacingAndGlyphs">0</text>
<text x="70.60" y="353.00" font-size="10.2" text-anchor="start" fill="#111" textLength="12.57" lengthAdjust="spacingAndGlyphs">10</text>
<text x="110.80" y="353.00" font-size="10.2" text-anchor="start" fill="#111" textLength="12.26" lengthAdjust="spacingAndGlyphs">20</text>
<text x="150.87" y="353.00" font-size="10.2" text-anchor="start" fill="#111" textLength="12.09" lengthAdjust="spacingAndGlyphs">30</text>
<text x="190.94" y="353.00" font-size="10.2" text-anchor="start" fill="#111" textLength="11.91" lengthAdjust="spacingAndGlyphs">40</text>
<text x="230.61" y="353.00" font-size="10.2" text-anchor="start" fill="#111" textLength="12.14" lengthAdjust="spacingAndGlyphs">50</text>
<path d="M50.2 198.85H66.3" stroke="#000" stroke-width="1.25"/>
<rect x="56.20" y="196.75" width="4.4" height="4.2" fill="#fff" stroke="#000" stroke-width="1.15"/>
<text x="69.16" y="202.35" font-size="10.2" text-anchor="start" fill="#111" textLength="33.07" lengthAdjust="spacingAndGlyphs">control</text>
<path d="M50.2 215.90H66.3" stroke="#000" stroke-width="1.25"/>
<rect x="56.00" y="213.70" width="4.8" height="4.4" fill="#000"/>
<text x="69.35" y="219.40" font-size="10.2" text-anchor="start" fill="#111" textLength="18.39" lengthAdjust="spacingAndGlyphs">sG1</text>
<path d="M50.2 232.95H66.3" stroke="#000" stroke-width="1.25"/>
<path d="M55.90 230.95H60.90L58.40 235.25Z" fill="#000"/>
<text x="69.33" y="236.45" font-size="10.2" text-anchor="start" fill="#111" textLength="46.40" lengthAdjust="spacingAndGlyphs">sG1mono</text>
<text x="11.00" y="334.15" font-size="10.0" text-anchor="start" fill="#111" textLength="127.51" lengthAdjust="spacingAndGlyphs" transform="rotate(-90 11.00 334.15)">% apoptotic primary HUVEC</text>
<text x="117.68" y="374.70" font-size="10.2" text-anchor="start" fill="#111" textLength="39.72" lengthAdjust="spacingAndGlyphs">Time (h)</text>
</g>
<g id="chartC">
<path d="M324.65 339.46V341.49M321.85 339.46H327.45M321.85 341.49H327.45M332.67 337.43V341.49M329.87 337.43H335.47M329.87 341.49H335.47M340.70 335.91V340.99M337.90 335.91H343.50M337.90 340.99H343.50M348.72 327.79V334.89M345.92 327.79H351.52M345.92 334.89H351.52M356.74 324.75V332.87M353.94 324.75H359.54M353.94 332.87H359.54M364.77 321.70V329.82M361.97 321.70H367.57M361.97 329.82H367.57M372.79 320.18V330.33M369.99 320.18H375.59M369.99 330.33H375.59M380.82 314.09V326.27M378.02 314.09H383.62M378.02 326.27H383.62M388.84 314.09V326.27M386.04 314.09H391.64M386.04 326.27H391.64M396.86 310.53V323.73M394.06 310.53H399.66M394.06 323.73H399.66M404.89 310.03V324.24M402.09 310.03H407.69M402.09 324.24H407.69M412.91 303.94V321.19M410.11 303.94H415.71M410.11 321.19H415.71M420.94 297.09V313.83M418.14 297.09H423.74M418.14 313.83H423.74M428.96 297.34V313.58M426.16 297.34H431.76M426.16 313.58H431.76M436.98 293.03V311.80M434.18 293.03H439.78M434.18 311.80H439.78M445.01 293.03V311.80M442.21 293.03H447.81M442.21 311.80H447.81M453.03 293.03V311.80M450.23 293.03H455.83M450.23 311.80H455.83M461.06 289.22V309.52M458.26 289.22H463.86M458.26 309.52H463.86M469.08 289.22V309.52M466.28 289.22H471.88M466.28 309.52H471.88M477.10 286.68V306.98M474.30 286.68H479.90M474.30 306.98H479.90M485.13 286.18V306.48M482.33 286.18H487.93M482.33 306.48H487.93M493.15 286.18V306.48M490.35 286.18H495.95M490.35 306.48H495.95M501.18 284.91V304.19M498.38 284.91H503.98M498.38 304.19H503.98M509.20 284.91V304.19M506.40 284.91H512.00M506.40 304.19H512.00" fill="none" stroke="#000" stroke-width="1.25"/>
<polyline points="308.60,342.00 316.62,342.00 324.65,340.48 332.67,339.46 340.70,338.45 348.72,331.34 356.74,328.81 364.77,325.76 372.79,325.25 380.82,320.18 388.84,320.18 396.86,317.13 404.89,317.13 412.91,312.56 420.94,305.46 428.96,305.46 436.98,302.42 445.01,302.42 453.03,302.42 461.06,299.37 469.08,299.37 477.10,296.83 485.13,296.32 493.15,296.32 501.18,294.55 509.20,294.55" fill="none" stroke="#000" stroke-width="1.25" stroke-linejoin="round"/>
<rect x="306.40" y="339.90" width="4.4" height="4.2" fill="#fff" stroke="#000" stroke-width="1.15"/>
<rect x="314.42" y="339.90" width="4.4" height="4.2" fill="#fff" stroke="#000" stroke-width="1.15"/>
<rect x="322.45" y="338.38" width="4.4" height="4.2" fill="#fff" stroke="#000" stroke-width="1.15"/>
<rect x="330.47" y="337.36" width="4.4" height="4.2" fill="#fff" stroke="#000" stroke-width="1.15"/>
<rect x="338.50" y="336.35" width="4.4" height="4.2" fill="#fff" stroke="#000" stroke-width="1.15"/>
<rect x="346.52" y="329.24" width="4.4" height="4.2" fill="#fff" stroke="#000" stroke-width="1.15"/>
<rect x="354.54" y="326.70" width="4.4" height="4.2" fill="#fff" stroke="#000" stroke-width="1.15"/>
<rect x="362.57" y="323.66" width="4.4" height="4.2" fill="#fff" stroke="#000" stroke-width="1.15"/>
<rect x="370.59" y="323.15" width="4.4" height="4.2" fill="#fff" stroke="#000" stroke-width="1.15"/>
<rect x="378.62" y="318.08" width="4.4" height="4.2" fill="#fff" stroke="#000" stroke-width="1.15"/>
<rect x="386.64" y="318.08" width="4.4" height="4.2" fill="#fff" stroke="#000" stroke-width="1.15"/>
<rect x="394.66" y="315.03" width="4.4" height="4.2" fill="#fff" stroke="#000" stroke-width="1.15"/>
<rect x="402.69" y="315.03" width="4.4" height="4.2" fill="#fff" stroke="#000" stroke-width="1.15"/>
<rect x="410.71" y="310.46" width="4.4" height="4.2" fill="#fff" stroke="#000" stroke-width="1.15"/>
<rect x="418.74" y="303.36" width="4.4" height="4.2" fill="#fff" stroke="#000" stroke-width="1.15"/>
<rect x="426.76" y="303.36" width="4.4" height="4.2" fill="#fff" stroke="#000" stroke-width="1.15"/>
<rect x="434.78" y="300.31" width="4.4" height="4.2" fill="#fff" stroke="#000" stroke-width="1.15"/>
<rect x="442.81" y="300.31" width="4.4" height="4.2" fill="#fff" stroke="#000" stroke-width="1.15"/>
<rect x="450.83" y="300.31" width="4.4" height="4.2" fill="#fff" stroke="#000" stroke-width="1.15"/>
<rect x="458.86" y="297.27" width="4.4" height="4.2" fill="#fff" stroke="#000" stroke-width="1.15"/>
<rect x="466.88" y="297.27" width="4.4" height="4.2" fill="#fff" stroke="#000" stroke-width="1.15"/>
<rect x="474.90" y="294.73" width="4.4" height="4.2" fill="#fff" stroke="#000" stroke-width="1.15"/>
<rect x="482.93" y="294.22" width="4.4" height="4.2" fill="#fff" stroke="#000" stroke-width="1.15"/>
<rect x="490.95" y="294.22" width="4.4" height="4.2" fill="#fff" stroke="#000" stroke-width="1.15"/>
<rect x="498.98" y="292.45" width="4.4" height="4.2" fill="#fff" stroke="#000" stroke-width="1.15"/>
<rect x="507.00" y="292.45" width="4.4" height="4.2" fill="#fff" stroke="#000" stroke-width="1.15"/>
<path d="M324.65 339.46V342.51M321.85 339.46H327.45M321.85 342.51H327.45M332.67 332.87V340.99M329.87 332.87H335.47M329.87 340.99H335.47M340.70 325.76V337.94M337.90 325.76H343.50M337.90 337.94H343.50M348.72 324.75V333.88M345.92 324.75H351.52M345.92 333.88H351.52M356.74 314.60V332.87M353.94 314.60H359.54M353.94 332.87H359.54M364.77 305.46V328.81M361.97 305.46H367.57M361.97 328.81H367.57M372.79 303.94V323.22M369.99 303.94H375.59M369.99 323.22H375.59M380.82 303.43V320.69M378.02 303.43H383.62M378.02 320.69H383.62M388.84 301.40V316.62M386.04 301.40H391.64M386.04 316.62H391.64M396.86 293.79V311.04M394.06 293.79H399.66M394.06 311.04H399.66M404.89 277.04V302.41M402.09 277.04H407.69M402.09 302.41H407.69M412.91 277.04V302.41M410.11 277.04H415.71M410.11 302.41H415.71M420.94 277.04V302.41M418.14 277.04H423.74M418.14 302.41H423.74M428.96 272.98V300.38M426.16 272.98H431.76M426.16 300.38H431.76M436.98 272.98V300.38M434.18 272.98H439.78M434.18 300.38H439.78M445.01 266.13V297.59M442.21 266.13H447.81M442.21 297.59H447.81M453.03 265.88V297.34M450.23 265.88H455.83M450.23 297.34H455.83M461.06 264.35V292.77M458.26 264.35H463.86M458.26 292.77H463.86M469.08 264.35V292.77M466.28 264.35H471.88M466.28 292.77H471.88M477.10 262.32V289.73M474.30 262.32H479.90M474.30 289.73H479.90M485.13 253.19V284.65M482.33 253.19H487.93M482.33 284.65H487.93M493.15 245.83V282.37M490.35 245.83H495.95M490.35 282.37H495.95M501.18 244.56V281.10M498.38 244.56H503.98M498.38 281.10H503.98M509.20 244.56V281.10M506.40 244.56H512.00M506.40 281.10H512.00" fill="none" stroke="#000" stroke-width="1.25"/>
<polyline points="308.60,342.00 316.62,342.00 324.65,340.99 332.67,336.93 340.70,331.85 348.72,329.31 356.74,323.73 364.77,317.13 372.79,313.58 380.82,312.06 388.84,309.01 396.86,302.42 404.89,289.73 412.91,289.73 420.94,289.73 428.96,286.68 436.98,286.68 445.01,281.86 453.03,281.61 461.06,278.56 469.08,278.56 477.10,276.02 485.13,268.92 493.15,264.10 501.18,262.83 509.20,262.83" fill="none" stroke="#000" stroke-width="1.25" stroke-linejoin="round"/>
<rect x="306.20" y="339.80" width="4.8" height="4.4" fill="#000"/>
<rect x="314.22" y="339.80" width="4.8" height="4.4" fill="#000"/>
<rect x="322.25" y="338.79" width="4.8" height="4.4" fill="#000"/>
<rect x="330.27" y="334.73" width="4.8" height="4.4" fill="#000"/>
<rect x="338.30" y="329.65" width="4.8" height="4.4" fill="#000"/>
<rect x="346.32" y="327.11" width="4.8" height="4.4" fill="#000"/>
<rect x="354.34" y="321.53" width="4.8" height="4.4" fill="#000"/>
<rect x="362.37" y="314.93" width="4.8" height="4.4" fill="#000"/>
<rect x="370.39" y="311.38" width="4.8" height="4.4" fill="#000"/>
<rect x="378.42" y="309.86" width="4.8" height="4.4" fill="#000"/>
<rect x="386.44" y="306.81" width="4.8" height="4.4" fill="#000"/>
<rect x="394.46" y="300.22" width="4.8" height="4.4" fill="#000"/>
<rect x="402.49" y="287.53" width="4.8" height="4.4" fill="#000"/>
<rect x="410.51" y="287.53" width="4.8" height="4.4" fill="#000"/>
<rect x="418.54" y="287.53" width="4.8" height="4.4" fill="#000"/>
<rect x="426.56" y="284.48" width="4.8" height="4.4" fill="#000"/>
<rect x="434.58" y="284.48" width="4.8" height="4.4" fill="#000"/>
<rect x="442.61" y="279.66" width="4.8" height="4.4" fill="#000"/>
<rect x="450.63" y="279.41" width="4.8" height="4.4" fill="#000"/>
<rect x="458.66" y="276.36" width="4.8" height="4.4" fill="#000"/>
<rect x="466.68" y="276.36" width="4.8" height="4.4" fill="#000"/>
<rect x="474.70" y="273.82" width="4.8" height="4.4" fill="#000"/>
<rect x="482.73" y="266.72" width="4.8" height="4.4" fill="#000"/>
<rect x="490.75" y="261.90" width="4.8" height="4.4" fill="#000"/>
<rect x="498.78" y="260.63" width="4.8" height="4.4" fill="#000"/>
<rect x="506.80" y="260.63" width="4.8" height="4.4" fill="#000"/>
<path d="M308.60 188.90V342.00H509.80" fill="none" stroke="#111" stroke-width="1.9" stroke-linejoin="miter"/>
<path d="M304.40 342.00H308.60M304.40 291.25H308.60M304.40 240.50H308.60M304.40 189.75H308.60M308.60 342.00V345.40M348.72 342.00V345.40M388.84 342.00V345.40M428.96 342.00V345.40M469.08 342.00V345.40M509.20 342.00V345.40" fill="none" stroke="#111" stroke-width="1.4"/>
<text x="297.48" y="345.60" font-size="10.2" text-anchor="start" fill="#111" textLength="5.79" lengthAdjust="spacingAndGlyphs">0</text>
<text x="290.32" y="294.85" font-size="10.2" text-anchor="start" fill="#111" textLength="13.01" lengthAdjust="spacingAndGlyphs">10</text>
<text x="290.63" y="244.10" font-size="10.2" text-anchor="start" fill="#111" textLength="12.70" lengthAdjust="spacingAndGlyphs">20</text>
<text x="290.81" y="193.35" font-size="10.2" text-anchor="start" fill="#111" textLength="12.51" lengthAdjust="spacingAndGlyphs">30</text>
<text x="305.88" y="356.10" font-size="10.2" text-anchor="start" fill="#111" textLength="5.79" lengthAdjust="spacingAndGlyphs">0</text>
<text x="342.42" y="356.10" font-size="10.2" text-anchor="start" fill="#111" textLength="12.57" lengthAdjust="spacingAndGlyphs">10</text>
<text x="382.84" y="356.10" font-size="10.2" text-anchor="start" fill="#111" textLength="12.26" lengthAdjust="spacingAndGlyphs">20</text>
<text x="423.13" y="356.10" font-size="10.2" text-anchor="start" fill="#111" textLength="12.09" lengthAdjust="spacingAndGlyphs">30</text>
<text x="463.42" y="356.10" font-size="10.2" text-anchor="start" fill="#111" textLength="11.91" lengthAdjust="spacingAndGlyphs">40</text>
<text x="503.31" y="356.10" font-size="10.2" text-anchor="start" fill="#111" textLength="12.14" lengthAdjust="spacingAndGlyphs">50</text>
<path d="M323 200.75H338" stroke="#000" stroke-width="1.25"/>
<rect x="328.30" y="198.65" width="4.4" height="4.2" fill="#fff" stroke="#000" stroke-width="1.15"/>
<text x="341.76" y="204.35" font-size="10.2" text-anchor="start" fill="#111" textLength="33.18" lengthAdjust="spacingAndGlyphs">control</text>
<path d="M323 217.15H338" stroke="#000" stroke-width="1.25"/>
<rect x="328.10" y="214.95" width="4.8" height="4.4" fill="#000"/>
<text x="341.96" y="220.75" font-size="10.2" text-anchor="start" fill="#111" textLength="17.87" lengthAdjust="spacingAndGlyphs">sG1</text>
<text x="281.60" y="334.66" font-size="10.0" text-anchor="start" fill="#111" textLength="131.92" lengthAdjust="spacingAndGlyphs" transform="rotate(-90 281.60 334.66)">% apoptotic trophoblast cells</text>
<text x="389.18" y="370.50" font-size="10.2" text-anchor="start" fill="#111" textLength="40.54" lengthAdjust="spacingAndGlyphs">Time (h)</text>
</g>
<g id="chartD">
<path d="M99.10 525.63V519.22M87.35 519.22H110.85" fill="none" stroke="#000" stroke-width="1.45"/>
<path d="M76.20 582.70V525.63H122.30V582.70" fill="#fff" stroke="#000" stroke-width="1.7"/>
<path d="M167.60 452.52V436.93M156.00 436.93H179.20" fill="none" stroke="#000" stroke-width="1.45"/>
<path d="M145.10 582.70V452.52H190.10V582.70" fill="#fff" stroke="#000" stroke-width="1.7"/>
<path d="M236.10 535.36V527.29M224.40 527.29H247.80" fill="none" stroke="#000" stroke-width="1.45"/>
<path d="M212.90 582.70V535.36H259.20V582.70" fill="#fff" stroke="#000" stroke-width="1.7"/>
<path d="M65.0 427.26V582.70H272" fill="none" stroke="#111" stroke-width="1.9"/>
<path d="M60.80 582.70H65.0M60.80 560.58H65.0M60.80 538.46H65.0M60.80 516.34H65.0M60.80 494.22H65.0M60.80 472.10H65.0M60.80 449.98H65.0M60.80 427.86H65.0" fill="none" stroke="#111" stroke-width="1.4"/>
<text x="53.58" y="586.20" font-size="10.0" text-anchor="start" fill="#111" textLength="5.79" lengthAdjust="spacingAndGlyphs">0</text>
<text x="40.53" y="564.08" font-size="10.0" text-anchor="start" fill="#111" textLength="18.90" lengthAdjust="spacingAndGlyphs">200</text>
<text x="40.88" y="541.96" font-size="10.0" text-anchor="start" fill="#111" textLength="18.55" lengthAdjust="spacingAndGlyphs">400</text>
<text x="40.53" y="519.84" font-size="10.0" text-anchor="start" fill="#111" textLength="18.90" lengthAdjust="spacingAndGlyphs">600</text>
<text x="40.65" y="497.72" font-size="10.0" text-anchor="start" fill="#111" textLength="18.78" lengthAdjust="spacingAndGlyphs">800</text>
<text x="34.56" y="475.60" font-size="10.0" text-anchor="start" fill="#111" textLength="24.82" lengthAdjust="spacingAndGlyphs">1000</text>
<text x="34.56" y="453.48" font-size="10.0" text-anchor="start" fill="#111" textLength="24.82" lengthAdjust="spacingAndGlyphs">1200</text>
<text x="34.56" y="431.36" font-size="10.0" text-anchor="start" fill="#111" textLength="24.82" lengthAdjust="spacingAndGlyphs">1400</text>
<path d="M98.7 421.7H164M169.9 421.7H235.4" stroke="#111" stroke-width="1.5"/>
<text x="131.50" y="422.40" font-size="12.5" text-anchor="middle" fill="#444" textLength="11.60" lengthAdjust="spacingAndGlyphs" stroke="none">**</text>
<text x="201.20" y="422.40" font-size="12.5" text-anchor="middle" fill="#444" textLength="11.60" lengthAdjust="spacingAndGlyphs" stroke="none">**</text>
<text x="82.75" y="600.40" font-size="10.0" text-anchor="start" fill="#111" textLength="33.90" lengthAdjust="spacingAndGlyphs">control</text>
<text x="158.83" y="600.40" font-size="10.0" text-anchor="start" fill="#111" textLength="20.16" lengthAdjust="spacingAndGlyphs">sG1</text>
<text x="222.73" y="600.40" font-size="10.0" text-anchor="start" fill="#111" textLength="29.02" lengthAdjust="spacingAndGlyphs">sG1 +</text>
<text x="212.14" y="611.70" font-size="10.0" text-anchor="start" fill="#111" textLength="50.67" lengthAdjust="spacingAndGlyphs">zVAD-fmk</text>
<text x="11.70" y="576.80" font-size="10.0" text-anchor="start" fill="#111" textLength="145.74" lengthAdjust="spacingAndGlyphs" transform="rotate(-90 11.70 576.80)">Area under SGHEC-7 apoptotic</text>
<text x="26.00" y="535.38" font-size="10.0" text-anchor="start" fill="#111" textLength="63.63" lengthAdjust="spacingAndGlyphs" transform="rotate(-90 26.00 535.38)">kinetics curve</text>
</g>
<g id="panelE">
<g clip-path="url(#cpE)">
<rect x="333" y="464.8" width="67.2" height="41.2" fill="#dedede"/>
<g filter="url(#b2)">
<rect x="328" y="494" width="80" height="20" fill="#e9e9e9"/>
<rect x="328" y="460" width="36" height="32" fill="#d7d7d7"/>
<rect x="367" y="477" width="36" height="14" fill="#b0b0b0"/>
<rect x="372" y="488" width="26" height="8" fill="#d2d2d2"/>
</g>
<g filter="url(#b15)">
<path d="M332 484.8 Q341 486.6 350 485.6 T368 483.9" stroke="#b6b6b6" stroke-width="2.8" fill="none"/>
</g>
<g filter="url(#b1)">
<path d="M367.8 483.8C367.8 483.0 370.0 481.8 372.0 481.2C374.0 480.6 377.0 480.4 380.0 480.2C383.0 480.0 387.0 480.0 390.0 480.0C393.0 480.0 396.1 479.7 398.0 480.2C399.9 480.7 401.5 482.1 401.5 483.2C401.5 484.3 399.9 486.1 398.0 486.8C396.1 487.5 393.0 487.2 390.0 487.2C387.0 487.2 383.0 487.2 380.0 487.0C377.0 486.8 374.0 486.7 372.0 486.2C370.0 485.7 367.8 484.6 367.8 483.8Z" fill="#0e0e0e" stroke="#0e0e0e" stroke-width="0" stroke-linejoin="round" />
</g>
<rect x="333" y="464.8" width="67.2" height="41.2" filter="url(#gw)" opacity="0.6"/>
<rect x="333" y="464.8" width="67.2" height="41.2" filter="url(#gb)" opacity="0.6"/>
</g>
<path d="M402.0 484.5 L410.0 480.6 V488.4Z" fill="#000"/>
<path d="M409 484.5H417.9" stroke="#000" stroke-width="1.6"/>
<text x="420.38" y="491.10" font-size="16.2" text-anchor="start" fill="#111" textLength="44.83" lengthAdjust="spacingAndGlyphs">85kDa</text>
<text x="357.30" y="555.02" font-size="13.8" text-anchor="start" fill="#111" textLength="46.24" lengthAdjust="spacingAndGlyphs" transform="rotate(-90 357.30 555.02)">control</text>
<text x="387.30" y="538.16" font-size="13.8" text-anchor="start" fill="#111" textLength="26.60" lengthAdjust="spacingAndGlyphs" transform="rotate(-90 387.30 538.16)">sG1</text>
</g>
</svg></body></html>
